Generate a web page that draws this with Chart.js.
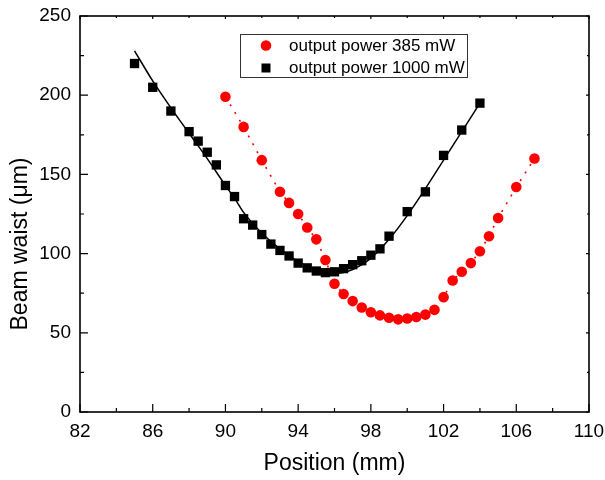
<!DOCTYPE html>
<html>
<head>
<meta charset="utf-8">
<script src="https://cdn.jsdelivr.net/npm/chart.js@4.4.0/dist/chart.umd.min.js"></script>
<style>
html, body { margin: 0; padding: 0; background: #fff; }
</style>
</head>
<body>
<canvas id="graficaWaist" width="605" height="480"></canvas>
<script>
// posicion (mm) y cintura del haz (um)
var posRed = [90, 91, 92, 93, 93.5, 94, 94.5, 95, 95.5, 96, 96.5, 97, 97.5, 98, 98.5, 99, 99.5, 100, 100.5, 101, 101.5, 102, 102.5, 103, 103.5, 104, 104.5, 105, 106, 107];
var waistRed = [199, 180, 159, 139, 132, 125, 116.5, 109, 96, 81, 74.5, 70, 66, 63, 61, 59.5, 58.5, 59, 60, 61.5, 64.5, 72.5, 83, 88.5, 94, 101.5, 111, 122.5, 142, 160];
var posBlack = [85, 86, 87, 88, 88.5, 89, 89.5, 90, 90.5, 91, 91.5, 92, 92.5, 93, 93.5, 94, 94.5, 95, 95.5, 96, 96.5, 97, 97.5, 98, 98.5, 99, 100, 101, 102, 103, 104];
var waistBlack = [220, 205, 190, 177, 171, 164, 156, 143, 136, 122, 118, 112, 106, 102, 98.5, 94, 91, 89, 88, 88.5, 90.5, 93, 95.5, 99, 103, 111, 126.5, 139, 162, 178, 195];
// curva de ajuste (linea negra)
var posFit = [85, 86, 87, 88, 89, 90, 90.5, 91, 92, 93, 94, 95, 96, 97, 98, 99, 100, 101, 102, 103, 104];
var waistFit = [228, 209, 192, 176, 160, 143, 135, 126, 113, 103, 95, 89.5, 87.5, 90, 97, 109, 124, 141, 159, 177, 195];
var xTicks = [82, 86, 90, 94, 98, 102, 106, 110];
var yTicks = [0, 50, 100, 150, 200, 250];
var legendLabels = ['output power 385 mW', 'output power 1000 mW'];

var FONT = "'Liberation Sans', Arial, sans-serif";

function pares(xs, ys) {
    return xs.map(function (x, i) { return { x: x, y: ys[i] }; });
}

// marco, marcas hacia dentro, titulo Y y leyenda
var ejesPlugin = {
    id: 'ejes',
    afterDraw: function (chart) {
        var c = chart.ctx, a = chart.chartArea;
        var sx = chart.scales.x, sy = chart.scales.y;
        c.save();
        c.strokeStyle = '#000';
        c.lineWidth = 1.6;
        c.strokeRect(a.left, a.top, a.right - a.left, a.bottom - a.top);
        c.lineWidth = 1.2;
        c.beginPath();
        for (var v = sx.min; v <= sx.max; v += 2) {
            var px = sx.getPixelForValue(v);
            var major = (v - sx.min) % 4 === 0;
            c.moveTo(px, a.bottom); c.lineTo(px, a.bottom - (major ? 8 : 4));
            c.moveTo(px, a.top); c.lineTo(px, a.top + (major ? 3 : 2));
        }
        for (var w = sy.min; w <= sy.max; w += 25) {
            var py = sy.getPixelForValue(w);
            var mj = w % 50 === 0;
            c.moveTo(a.left, py); c.lineTo(a.left + (mj ? 8 : 4), py);
            c.moveTo(a.right, py); c.lineTo(a.right - (mj ? 3 : 2), py);
        }
        c.stroke();

        // titulo eje Y
        c.fillStyle = '#000';
        c.font = '23px ' + FONT;
        c.textAlign = 'center';
        c.textBaseline = 'middle';
        c.translate(21, 244);
        c.rotate(-Math.PI / 2);
        c.fillText('Beam waist (\u03bcm)', 0, 0);
        c.setTransform(1, 0, 0, 1, 0, 0);

        // leyenda
        c.lineWidth = 1;
        c.strokeStyle = '#333';
        c.strokeRect(240.5, 34.5, 227, 43);
        c.fillStyle = '#ff0000';
        c.beginPath();
        c.arc(266, 45.5, 5.3, 0, Math.PI * 2);
        c.fill();
        c.fillStyle = '#000';
        c.fillRect(261.5, 63.5, 9, 9);
        c.font = '17px ' + FONT;
        c.textAlign = 'left';
        c.fillText(legendLabels[0], 289, 46);
        c.fillText(legendLabels[1], 289, 68.5);
        c.restore();
    }
};

var ctx = document.getElementById('graficaWaist').getContext('2d');
var myChart = new Chart(ctx, {
    type: 'scatter',
    data: {
        datasets: [{
            label: legendLabels[1] + ' fit',
            data: pares(posFit, waistFit),
            showLine: true,
            borderColor: '#000',
            borderWidth: 1.5,
            pointRadius: 0,
            cubicInterpolationMode: 'monotone'
        }, {
            label: legendLabels[1],
            data: pares(posBlack, waistBlack),
            pointStyle: 'rect',
            pointRadius: 6.6,
            backgroundColor: '#000',
            borderColor: '#000',
            borderWidth: 0
        }, {
            label: legendLabels[0],
            data: pares(posRed, waistRed),
            showLine: true,
            borderColor: '#ff0000',
            borderWidth: 1.6,
            borderDash: [2, 7],
            pointStyle: 'circle',
            pointRadius: 5.3,
            backgroundColor: '#ff0000',
            pointBorderWidth: 0
        }]
    },
    options: {
        responsive: false,
        animation: false,
        layout: { padding: { top: 16, right: 16, left: 0, bottom: 0 } },
        plugins: {
            legend: { display: false },
            tooltip: { enabled: false }
        },
        scales: {
            x: {
                type: 'linear',
                min: 82,
                max: 110,
                afterBuildTicks: function (s) { s.ticks = xTicks.map(function (v) { return { value: v }; }); },
                afterFit: function (s) { s.height = 68; s.paddingLeft = 0; s.paddingRight = 0; },
                grid: { display: false, drawTicks: false },
                border: { display: false },
                ticks: { color: '#000', font: { size: 19, family: FONT }, padding: 8, maxRotation: 0 },
                title: {
                    display: true,
                    text: 'Position (mm)',
                    color: '#000',
                    font: { size: 23, family: FONT },
                    padding: { top: 0, bottom: 3 }
                }
            },
            y: {
                min: 0,
                max: 250,
                afterBuildTicks: function (s) { s.ticks = yTicks.map(function (v) { return { value: v }; }); },
                afterFit: function (s) { s.width = 80; s.paddingTop = 0; s.paddingBottom = 0; },
                grid: { display: false, drawTicks: false },
                border: { display: false },
                ticks: { color: '#000', font: { size: 19, family: FONT }, padding: 9 }
            }
        }
    },
    plugins: [ejesPlugin]
});
</script>
</body>
</html>
